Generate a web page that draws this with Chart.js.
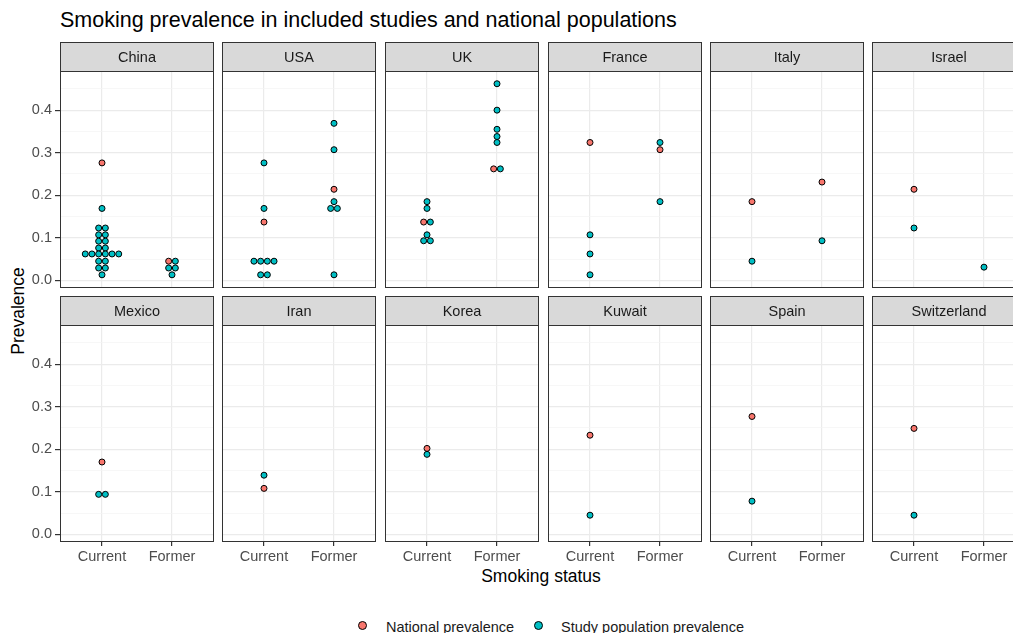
<!DOCTYPE html>
<html>
<head>
<meta charset="utf-8">
<script src="https://cdn.jsdelivr.net/npm/chart.js@4.4.1/dist/chart.umd.min.js"></script>
<style>
  body { margin: 0; width: 1013px; height: 633px; overflow: hidden; background: #fff; position: relative;
         font-family: "Liberation Sans", Arial, sans-serif; }
  canvas { position: absolute; }
  .lbl { position: absolute; white-space: nowrap; line-height: 1; }
  .dot { position: absolute; width: 7px; height: 7px; border: 1px solid #000; border-radius: 50%; }
</style>
</head>
<body>
<div class="lbl" style="left:60px;top:10px;font-size:21.5px;color:#000">Smoking prevalence in included studies and national populations</div>
<div class="lbl" style="left:19px;top:311px;font-size:17.5px;color:#000;transform:translate(-50%,-50%) rotate(-90deg)">Prevalence</div>
<div class="lbl" style="left:541px;top:568px;font-size:17.5px;color:#000;transform:translateX(-50%)">Smoking status</div>

<div class="dot" style="left:358px;top:621px;background:#F8766D"></div>
<div class="lbl" style="left:386px;top:620px;font-size:14.5px;color:#1a1a1a">National prevalence</div>
<div class="dot" style="left:534px;top:621px;background:#00BFC4"></div>
<div class="lbl" style="left:561px;top:620px;font-size:14.5px;color:#1a1a1a">Study population prevalence</div>

<script>
// facet panels, in reading order
const countries = ['China', 'USA', 'UK', 'France', 'Italy', 'Israel',
                   'Mexico', 'Iran', 'Korea', 'Kuwait', 'Spain', 'Switzerland'];
const statusLabels = ['Current', 'Former'];
const yTickValues = [0, 0.05, 0.1, 0.15, 0.2, 0.25, 0.3, 0.35, 0.4, 0.45];

// national prevalence (one per country and status, null = none)
const nationalCurrent = [0.276, 0.137, 0.137, 0.324, 0.185, 0.214, 0.170, 0.108, 0.202, 0.233, 0.277, 0.249];
const nationalFormer  = [0.045, 0.214, 0.262, 0.307, 0.231, null, null, null, null, null, null, null];

// study population prevalence (one list per country)
const studyCurrent = [
  [0.169, 0.123, 0.123, 0.107, 0.107, 0.092, 0.092, 0.076, 0.076,
   0.062, 0.062, 0.062, 0.062, 0.062, 0.062, 0.045, 0.045, 0.029, 0.029, 0.013],
  [0.276, 0.169, 0.045, 0.045, 0.045, 0.045, 0.013, 0.013],
  [0.185, 0.169, 0.137, 0.107, 0.093, 0.093],
  [0.107, 0.062, 0.013],
  [0.045],
  [0.123],
  [0.094, 0.094],
  [0.139],
  [0.188],
  [0.045],
  [0.078],
  [0.045]
];
const studyFormer = [
  [0.045, 0.029, 0.029, 0.013],
  [0.369, 0.307, 0.185, 0.169, 0.169, 0.013],
  [0.462, 0.400, 0.355, 0.338, 0.324, 0.262],
  [0.324, 0.185],
  [0.093],
  [0.031],
  [], [], [], [], [], []
];

const RED = '#F8766D', TEAL = '#00BFC4';
const FONT = '"Liberation Sans", Arial, sans-serif';
const colLeft = [60, 222, 385, 548, 710, 872];
const rowTop = [42, 296];
const PANEL_W = 154, STRIP_H = 29, PANEL_H = 217;
const DOT_STEP = 0.0957; // one dot width in x units

Chart.defaults.font.family = FONT;

// stack dots sharing a value side by side (dotplot, centered)
function stackPoints(i) {
  const nat = [], stu = [];
  [[nationalCurrent[i], studyCurrent[i]], [nationalFormer[i], studyFormer[i]]].forEach(([n, s], k) => {
    const items = [];
    if (n !== null) items.push({ v: n, kind: 'nat' });
    s.forEach(v => items.push({ v: v, kind: 'stu' }));
    const groups = {};
    items.forEach(it => { const key = it.v.toFixed(3); (groups[key] = groups[key] || []).push(it); });
    Object.values(groups).forEach(g => {
      g.forEach((it, j) => {
        const p = { x: k + 1 + (j - (g.length - 1) / 2) * DOT_STEP, y: it.v };
        (it.kind === 'nat' ? nat : stu).push(p);
      });
    });
  });
  return { nat, stu };
}

const facetFrame = {
  id: 'facetFrame',
  afterDraw(chart, args, opts) {
    const { ctx, chartArea: a } = chart;
    ctx.save();
    ctx.fillStyle = '#d9d9d9';
    ctx.fillRect(a.left, 0, a.right - a.left, a.top);
    ctx.strokeStyle = '#333333';
    ctx.lineWidth = 1;
    ctx.strokeRect(a.left + 0.5, 0.5, a.right - a.left - 1, a.top);
    ctx.strokeRect(a.left + 0.5, a.top + 0.5, a.right - a.left - 1, a.bottom - a.top - 1);
    ctx.fillStyle = '#1a1a1a';
    ctx.font = '14.5px ' + FONT;
    ctx.textAlign = 'center';
    ctx.textBaseline = 'middle';
    ctx.fillText(opts.title, (a.left + a.right) / 2, a.top / 2 + 1);
    ctx.restore();
  }
};

const isMajor = v => Math.abs(v * 10 - Math.round(v * 10)) < 1e-6;

countries.forEach((name, i) => {
  const row = Math.floor(i / 6), col = i % 6;
  const leftCol = col === 0, bottomRow = row === 1;
  // top row keeps a blank strip below so label overflow does not shrink the panel
  const bottomPad = bottomRow ? 0 : 16;
  const cv = document.createElement('canvas');
  const w = PANEL_W + (leftCol ? 60 : 0);
  const h = STRIP_H + PANEL_H + (bottomRow ? 30 : 0) + bottomPad;
  cv.width = w; cv.height = h;
  cv.style.left = (colLeft[col] - (leftCol ? 60 : 0)) + 'px';
  cv.style.top = rowTop[row] + 'px';
  document.body.appendChild(cv);

  const pts = stackPoints(i);
  new Chart(cv, {
    type: 'scatter',
    data: {
      datasets: [
        { label: 'Study population prevalence', data: pts.stu, order: 1,
          backgroundColor: TEAL, borderColor: '#000', borderWidth: 1, pointRadius: 3, pointHoverRadius: 3 },
        { label: 'National prevalence', data: pts.nat, order: 2,
          backgroundColor: RED, borderColor: '#000', borderWidth: 1, pointRadius: 3, pointHoverRadius: 3 }
      ]
    },
    options: {
      responsive: false,
      animation: false,
      devicePixelRatio: 1,
      layout: { padding: { top: STRIP_H, left: 0, right: 0, bottom: bottomPad }, autoPadding: false },
      plugins: { legend: { display: false }, tooltip: { enabled: false }, facetFrame: { title: name } },
      scales: {
        x: {
          type: 'linear', min: 0.4, max: 2.6,
          afterBuildTicks: s => { s.ticks = [{ value: 1 }, { value: 2 }]; },
          afterFit: s => { s.height = bottomRow ? 30 : 0; },
          border: { display: false },
          grid: { color: '#ebebeb', lineWidth: 1.2, drawTicks: bottomRow, tickLength: 4, tickColor: '#333333' },
          ticks: { display: bottomRow, autoSkip: false, maxRotation: 0, padding: 2, color: '#4d4d4d',
                   font: { size: 14.5 }, callback: v => statusLabels[Math.round(v) - 1] }
        },
        y: {
          type: 'linear', min: -0.018, max: 0.492,
          afterBuildTicks: s => { s.ticks = yTickValues.map(v => ({ value: v })); },
          afterFit: s => { s.width = leftCol ? 60 : 0; },
          border: { display: false },
          grid: {
            color: c => isMajor(c.tick.value) ? '#ebebeb' : '#f3f3f3',
            lineWidth: c => isMajor(c.tick.value) ? 1.2 : 0.7,
            drawTicks: leftCol, tickLength: 5,
            tickColor: c => isMajor(c.tick.value) ? '#333333' : 'rgba(0,0,0,0)'
          },
          ticks: { display: leftCol, autoSkip: false, padding: 3, color: '#4d4d4d', font: { size: 14.5 },
                   callback: v => isMajor(v) ? v.toFixed(1) : '' }
        }
      }
    },
    plugins: [facetFrame]
  });
});
</script>
</body>
</html>
